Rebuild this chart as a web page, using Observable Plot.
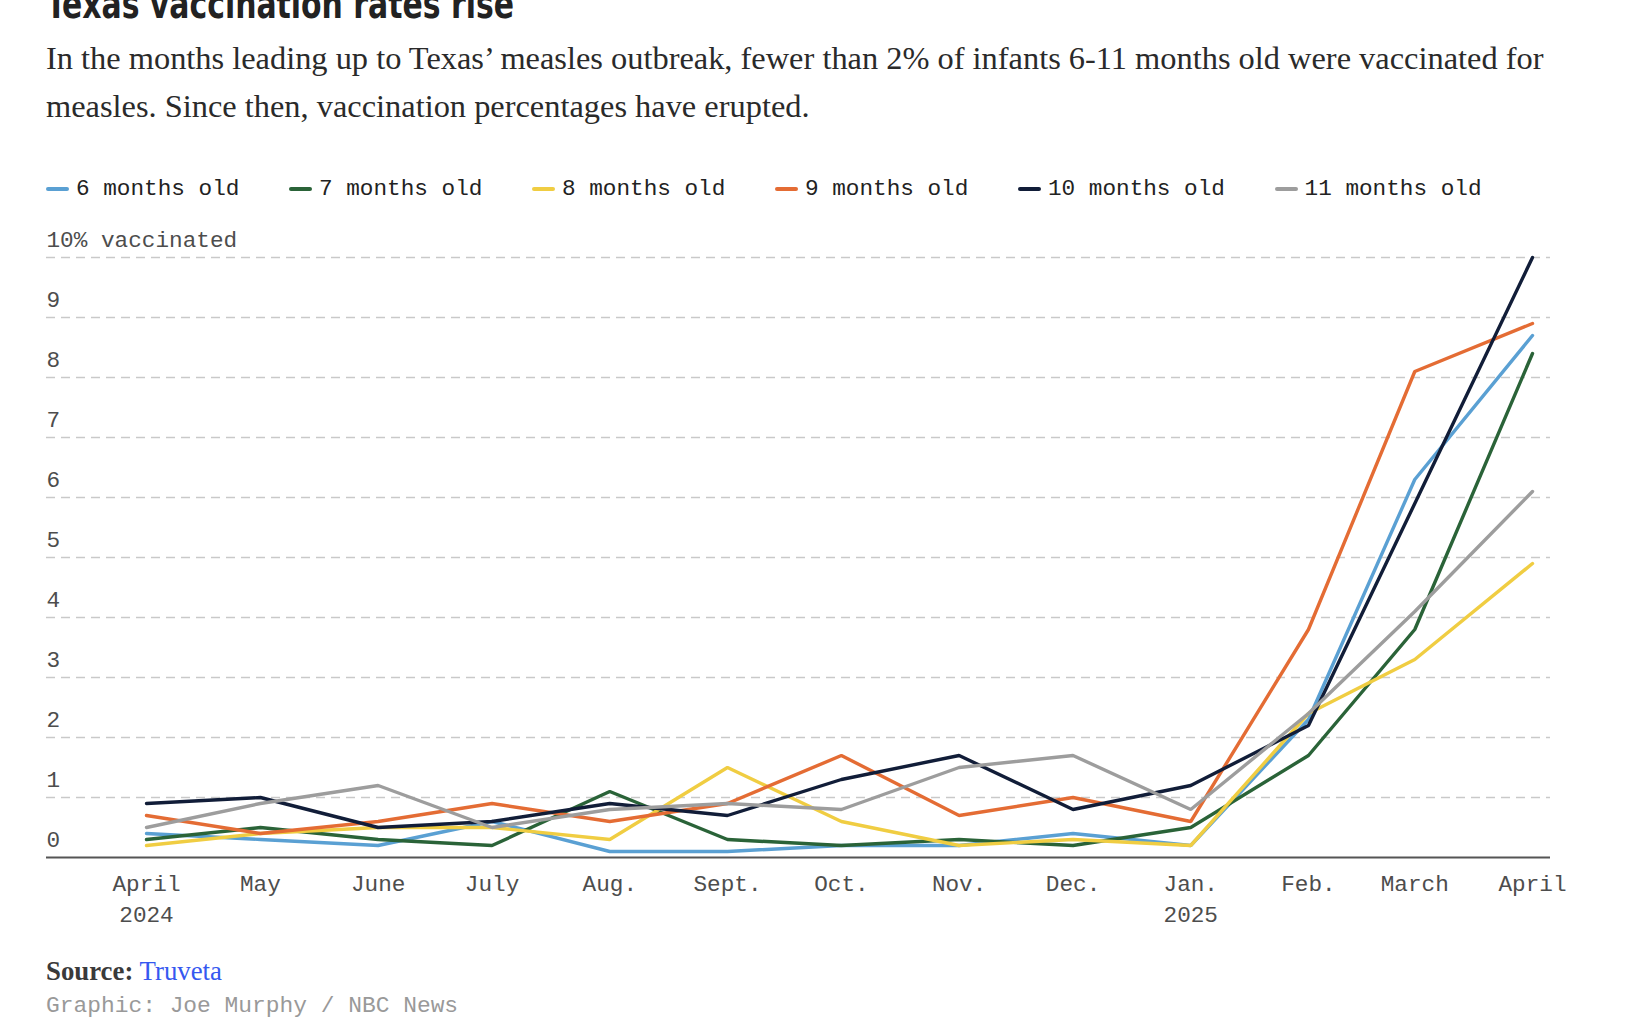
<!DOCTYPE html>
<html><head><meta charset="utf-8">
<script src="https://cdn.jsdelivr.net/npm/d3@7"></script>
<script src="https://cdn.jsdelivr.net/npm/@observablehq/plot@0.6"></script>
<style>
html,body{margin:0;padding:0;background:#fff;}
body{width:1644px;height:1024px;position:relative;overflow:hidden;}
#title{position:absolute;left:46px;top:-16px;font-family:"Liberation Sans Narrow","DejaVu Sans Condensed","Liberation Sans",sans-serif;font-weight:700;font-size:41px;line-height:40px;color:#222;white-space:nowrap;transform:scaleX(0.81);transform-origin:0 0;}
#sub{position:absolute;left:46px;top:34px;font-family:"Liberation Serif",serif;font-size:32.4px;line-height:48px;color:#2a2a2a;white-space:nowrap;}
#legend{position:absolute;left:46px;top:174px;display:flex;font-family:"Liberation Mono",monospace;font-size:22.7px;line-height:30px;color:#222;white-space:nowrap;}
.item{display:flex;align-items:center;margin-right:49.6px;}
.sw{display:inline-block;width:23px;height:4px;border-radius:2px;margin-right:7px;}
#chart{position:absolute;left:0;top:210px;}
#source{position:absolute;left:46px;top:956px;font-family:"Liberation Serif",serif;font-size:26.8px;line-height:30px;color:#333;white-space:nowrap;}
#source b{color:#3a3a3a;}
#source span{color:#3558f0;}
#credit{position:absolute;left:46px;top:991px;font-family:"Liberation Mono",monospace;font-size:22.9px;line-height:30px;color:#999;white-space:nowrap;}
</style></head><body>
<div id="title">Texas vaccination rates rise</div>
<div id="sub">In the months leading up to Texas’ measles outbreak, fewer than 2% of infants 6-11 months old were vaccinated for<br>measles. Since then, vaccination percentages have erupted.</div>
<div id="legend"></div>
<div id="chart"></div>
<div id="source"><b>Source:</b> <span>Truveta</span></div>
<div id="credit">Graphic: Joe Murphy / NBC News</div>
<script>
const months = ["2024-04-01","2024-05-01","2024-06-01","2024-07-01","2024-08-01","2024-09-01","2024-10-01","2024-11-01","2024-12-01","2025-01-01","2025-02-01","2025-03-01","2025-04-01"];
const monthLabels = ["April\n2024","May","June","July","Aug.","Sept.","Oct.","Nov.","Dec.","Jan.\n2025","Feb.","March","April"];
const seriesNames = ["6 months old","7 months old","8 months old","9 months old","10 months old","11 months old"];
const seriesColors = ["#5aa0d3","#2a6338","#f0cd42","#e46c34","#111d38","#9d9d9d"];
const age6  = [0.4,0.3,0.2,0.6,0.1,0.1,0.2,0.2,0.4,0.2,2.3,6.3,8.7];
const age7  = [0.3,0.5,0.3,0.2,1.1,0.3,0.2,0.3,0.2,0.5,1.7,3.8,8.4];
const age8  = [0.2,0.4,0.5,0.5,0.3,1.5,0.6,0.2,0.3,0.2,2.4,3.3,4.9];
const age9  = [0.7,0.4,0.6,0.9,0.6,0.9,1.7,0.7,1.0,0.6,3.8,8.1,8.9];
const age10 = [0.9,1.0,0.5,0.6,0.9,0.7,1.3,1.7,0.8,1.2,2.2,5.9,10.0];
const age11 = [0.5,0.9,1.2,0.5,0.8,0.9,0.8,1.5,1.7,0.8,2.4,4.1,6.1];
const yTicks = [0,1,2,3,4,5,6,7,8,9,10];

const seriesValues = [age6, age7, age8, age9, age10, age11];
const dates = months.map(m => new Date(m + "T00:00:00Z"));
const labelMap = new Map(dates.map((d, i) => [+d, monthLabels[i]]));
const data = [];
seriesNames.forEach((name, i) => dates.forEach((d, j) => data.push({date: d, value: seriesValues[i][j], series: name})));

// legend
const legend = document.getElementById("legend");
seriesNames.forEach((name, i) => {
  const it = document.createElement("div");
  it.className = "item";
  const sw = document.createElement("span");
  sw.className = "sw";
  sw.style.background = seriesColors[i];
  it.appendChild(sw);
  it.appendChild(document.createTextNode(name));
  legend.appendChild(it);
});

const plot = Plot.plot({
  width: 1644,
  height: 730,
  marginLeft: 46,
  marginRight: 94,
  marginTop: 47,
  marginBottom: 83,
  style: {fontFamily: "'Liberation Mono', monospace", fontSize: "22.7px", color: "#4d4d4d", background: "transparent", overflow: "visible"},
  x: {type: "utc", domain: [dates[0], dates[dates.length - 1]], insetLeft: 100, insetRight: 18},
  y: {domain: [0, 10], axis: null},
  color: {domain: seriesNames, range: seriesColors},
  marks: [
    Plot.ruleY(yTicks.filter(d => d > 0), {stroke: "#c9c9c9", strokeWidth: 1.6, strokeDasharray: "9,6"}),
    Plot.text(yTicks, {y: d => d, frameAnchor: "left", textAnchor: "start", dy: -18, text: d => d === 10 ? "10% vaccinated" : String(d), fill: "#4d4d4d"}),
    Plot.ruleY([0], {stroke: "#555", strokeWidth: 2}),
    Plot.axisX(dates, {tickSize: 0, tickPadding: 12, tickFormat: d => labelMap.get(+d), lineHeight: 1.36, fill: "#4d4d4d"}),
    Plot.line(data, {x: "date", y: "value", z: "series", stroke: "series", strokeWidth: 3.4, strokeLinejoin: "miter"})
  ]
});
document.getElementById("chart").appendChild(plot);
</script>
</body></html>
